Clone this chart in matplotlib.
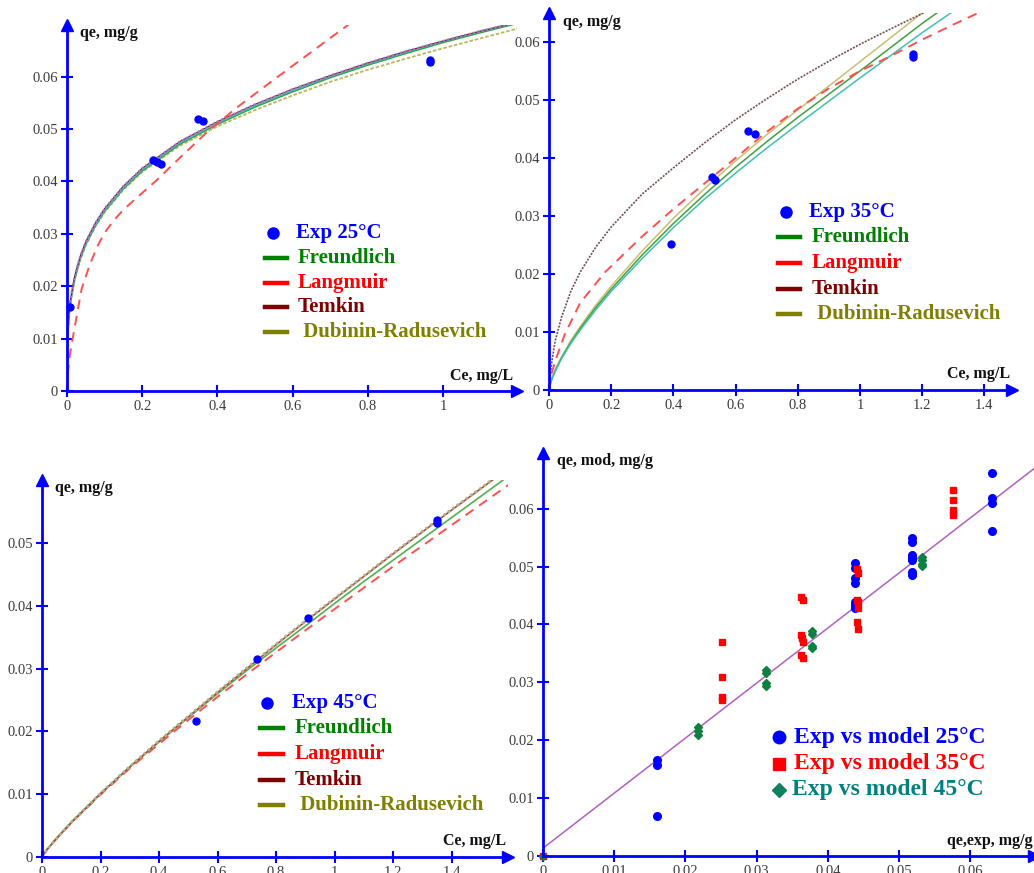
import matplotlib
matplotlib.use("Agg")
import matplotlib.pyplot as plt
from matplotlib.lines import Line2D
from matplotlib.ticker import FuncFormatter

# ---------------- DATA ----------------
# Panel 1 : 25 C
exp25_ce = [0.008, 0.228, 0.24, 0.25, 0.349, 0.363, 0.965, 0.965]
exp25_qe = [0.0160, 0.0441, 0.0437, 0.0434, 0.0520, 0.0516, 0.0628, 0.0632]
grid25 = [0, 0.001, 0.003, 0.006, 0.01, 0.02, 0.035, 0.05, 0.075, 0.1, 0.15, 0.2,
          0.3, 0.4, 0.5, 0.6, 0.7, 0.8, 0.9, 1.0, 1.1, 1.2]
freundlich25 = [0, 0.0088, 0.0122, 0.0149, 0.0173, 0.0213, 0.0252, 0.0280, 0.0315, 0.0343,
                0.0386, 0.0420, 0.0471, 0.0509, 0.0542, 0.0571, 0.0598, 0.0622, 0.0644,
                0.0665, 0.0684, 0.0702]
other25 = [0, 0.0089, 0.0123, 0.0150, 0.0174, 0.0214, 0.0253, 0.0281, 0.0316, 0.0344,
           0.0387, 0.0422, 0.0473, 0.0511, 0.0544, 0.0573, 0.0600, 0.0624, 0.0646,
           0.0667, 0.0686, 0.0704]
temkin25 = [0, 0.0090, 0.0125, 0.0153, 0.0177, 0.0218, 0.0257, 0.0285, 0.0320, 0.0348,
            0.0391, 0.0425, 0.0476, 0.0514, 0.0547, 0.0576, 0.0602, 0.0626, 0.0648,
            0.0668, 0.0687, 0.0704]
dr25 = [0, 0.0086, 0.0120, 0.0147, 0.0171, 0.0211, 0.0250, 0.0278, 0.0313, 0.0341,
        0.0384, 0.0418, 0.0468, 0.0505, 0.0536, 0.0564, 0.0590, 0.0613, 0.0634,
        0.0654, 0.0673, 0.0692]
lang25_ce = [0, 0.003, 0.008, 0.015, 0.025, 0.039, 0.06, 0.08, 0.1, 0.125, 0.15, 0.2,
             0.238, 0.3, 0.371, 0.45, 0.55, 0.65, 0.75]
lang25_qe = [0, 0.0040, 0.0070, 0.0100, 0.0140, 0.0195, 0.0240, 0.0275, 0.0302, 0.0326,
             0.0346, 0.0378, 0.0402, 0.0445, 0.0493, 0.0540, 0.0594, 0.0647, 0.0700]

# Panel 2 : 35 C
exp35_ce = [0.392, 0.523, 0.534, 0.641, 0.662, 1.171, 1.171]
exp35_qe = [0.0252, 0.0368, 0.0362, 0.0447, 0.0441, 0.0580, 0.0575]
grid35 = [0, 0.005, 0.01, 0.02, 0.04, 0.07, 0.1, 0.15, 0.2, 0.3, 0.4, 0.5, 0.6, 0.7,
          0.8, 0.9, 1.0, 1.1, 1.2, 1.3]
temkin35 = [0, 0.0030, 0.0052, 0.0085, 0.0125, 0.0170, 0.0203, 0.0246, 0.0281, 0.0338,
            0.0383, 0.0426, 0.0466, 0.0502, 0.0536, 0.0567, 0.0596, 0.0623, 0.0649, 0.0674]
freundlich35 = [0, 0.0012, 0.0020, 0.0033, 0.0055, 0.0082, 0.0106, 0.0142, 0.0174, 0.0233,
                0.0287, 0.0337, 0.0384, 0.0428, 0.0470, 0.0510, 0.0550, 0.0591, 0.0632, 0.0670]
dr35 = [0, 0.0013, 0.0021, 0.0035, 0.0057, 0.0085, 0.0109, 0.0146, 0.0179, 0.0240,
        0.0296, 0.0347, 0.0395, 0.0440, 0.0483, 0.0524, 0.0566, 0.0608, 0.0650, 0.0690]
other35 = [0, 0.0012, 0.0020, 0.0032, 0.0054, 0.0080, 0.0103, 0.0138, 0.0170, 0.0227,
           0.0280, 0.0329, 0.0374, 0.0417, 0.0458, 0.0498, 0.0538, 0.0577, 0.0616, 0.0653]
lang35_ce = [0, 0.005, 0.02, 0.05, 0.1, 0.18, 0.3, 0.4, 0.5, 0.6, 0.7, 0.8, 0.9, 1.0,
             1.1, 1.2, 1.3, 1.4]
lang35_qe = [0, 0.0022, 0.0050, 0.0095, 0.0150, 0.0203, 0.0265, 0.0312, 0.0356, 0.0400,
             0.0445, 0.0485, 0.0520, 0.0550, 0.0576, 0.0604, 0.0630, 0.0655]

# Panel 3 : 45 C
exp45_ce = [0.526, 0.734, 0.910, 1.349, 1.349]
exp45_qe = [0.0217, 0.0315, 0.0381, 0.0537, 0.0533]
grid45 = [0, 0.01, 0.02, 0.05, 0.1, 0.2, 0.3, 0.4, 0.5, 0.6, 0.7, 0.8, 0.9, 1.0,
          1.1, 1.2, 1.3, 1.4, 1.5, 1.6]
temkin45 = [0, 0.0007, 0.0013, 0.0029, 0.0054, 0.0100, 0.0143, 0.0184, 0.0223, 0.0262,
            0.0300, 0.0338, 0.0375, 0.0411, 0.0447, 0.0483, 0.0518, 0.0553, 0.0587, 0.0622]
dr45 = [0, 0.0007, 0.0013, 0.0029, 0.0055, 0.0101, 0.0144, 0.0185, 0.0224, 0.0263,
        0.0301, 0.0339, 0.0376, 0.0412, 0.0448, 0.0484, 0.0519, 0.0554, 0.0588, 0.0623]
freundlich45 = [0, 0.0007, 0.0013, 0.0030, 0.0055, 0.0101, 0.0143, 0.0183, 0.0222, 0.0260,
                0.0297, 0.0333, 0.0368, 0.0404, 0.0439, 0.0473, 0.0507, 0.0541, 0.0575, 0.0609]
lang45 = [0, 0.0007, 0.0013, 0.0029, 0.0054, 0.0099, 0.0141, 0.0180, 0.0218, 0.0255,
          0.0291, 0.0326, 0.0361, 0.0395, 0.0429, 0.0463, 0.0496, 0.0529, 0.0562, 0.0595]

# Panel 4 : experimental vs model
pv25_exp = [0.0160, 0.0160, 0.0160,
            0.0438, 0.0438, 0.0438, 0.0438, 0.0438, 0.0438, 0.0438,
            0.0518, 0.0518, 0.0518, 0.0518, 0.0518, 0.0518, 0.0518,
            0.0630, 0.0630, 0.0630, 0.0630]
pv25_mod = [0.0166, 0.0157, 0.0069,
            0.0506, 0.0497, 0.0480, 0.0472, 0.0439, 0.0434, 0.0428,
            0.0549, 0.0543, 0.0520, 0.0515, 0.0512, 0.0490, 0.0486,
            0.0662, 0.0618, 0.0610, 0.0562]
pv35_exp = [0.0, 0.0251, 0.0251, 0.0251, 0.0251,
            0.0363, 0.0365, 0.0363, 0.0364, 0.0365, 0.0363, 0.0365,
            0.0441, 0.0443, 0.0441, 0.0442, 0.0443, 0.0441, 0.0443,
            0.0576, 0.0576, 0.0576, 0.0576]
pv35_mod = [0.0, 0.0370, 0.0309, 0.0275, 0.0269,
            0.0447, 0.0442, 0.0382, 0.0376, 0.0370, 0.0347, 0.0342,
            0.0496, 0.0489, 0.0442, 0.0439, 0.0428, 0.0405, 0.0393,
            0.0632, 0.0615, 0.0598, 0.0589]
pv45_exp = [0.0, 0.0217, 0.0217, 0.0217, 0.0313, 0.0313, 0.0313, 0.0313,
            0.0378, 0.0378, 0.0378, 0.0378, 0.0532, 0.0532, 0.0532, 0.0532]
pv45_mod = [0.0, 0.0223, 0.0215, 0.0209, 0.0321, 0.0316, 0.0298, 0.0294,
            0.0389, 0.0384, 0.0363, 0.0359, 0.0516, 0.0512, 0.0505, 0.0501]
fit_x = [0.0, 0.069]
fit_y = [0.0013, 0.0670]

x_ticks_1 = [0, 0.2, 0.4, 0.6, 0.8, 1.0]
x_ticks_23 = [0, 0.2, 0.4, 0.6, 0.8, 1.0, 1.2, 1.4]
y_ticks_12 = [0, 0.01, 0.02, 0.03, 0.04, 0.05, 0.06]
y_ticks_3 = [0, 0.01, 0.02, 0.03, 0.04, 0.05]
x_ticks_4 = [0, 0.01, 0.02, 0.03, 0.04, 0.05, 0.06]
y_ticks_4 = [0, 0.01, 0.02, 0.03, 0.04, 0.05, 0.06]

legend_models = ["Freundlich", "Langmuir", "Temkin", " Dubinin-Radusevich"]
legend_model_colors = ["#008000", "#FF0000", "#800000", "#808000"]

# ---------------- FIGURE ----------------
W, H = 1034, 873
fig = plt.figure(figsize=(W / 100, H / 100), dpi=100)
fig.patch.set_facecolor("white")
SERIF = ["Liberation Serif", "DejaVu Serif"]
BLUE = "#0000FF"


def fx(x):
    return x / W


def fy(y):
    return 1 - y / H


def make_axes(left, top, right, bottom, xmax, ymax, xticks, yticks):
    ax = fig.add_axes([fx(left), fy(bottom), (right - left) / W, (bottom - top) / H])
    ax.set_xlim(0, xmax)
    ax.set_ylim(0, ymax)
    for s in ("top", "right"):
        ax.spines[s].set_visible(False)
    for s in ("left", "bottom"):
        ax.spines[s].set_color(BLUE)
        ax.spines[s].set_linewidth(2.0)
        ax.spines[s].set_zorder(5)
    ax.set_xticks(xticks)
    ax.set_yticks(yticks)
    fmt = FuncFormatter(lambda v, p: "%g" % round(v, 4))
    ax.xaxis.set_major_formatter(fmt)
    ax.yaxis.set_major_formatter(fmt)
    ax.tick_params(direction="inout", length=9, width=1.5, color=BLUE,
                   labelsize=10.5, labelcolor="#3a3a3a", pad=2)
    for lab in ax.get_xticklabels() + ax.get_yticklabels():
        lab.set_family(SERIF)
    # arrow heads
    ax.plot([0], [1.0], marker="^", markersize=8, color=BLUE, transform=ax.transAxes,
            clip_on=False, zorder=6)
    ax.plot([1.0], [0], marker=">", markersize=8, color=BLUE, transform=ax.transAxes,
            clip_on=False, zorder=6)
    ax.set_facecolor("none")
    return ax


def label(x, y, s, ha="left"):
    fig.text(fx(x), fy(y), s, ha=ha, va="center", fontsize=11.5, fontweight="bold",
             family=SERIF, color="#111111")


def model_legend(title, xh0, xh1, xm, xt, xt2, rows, fs=15):
    # first row: experimental marker
    fig.add_artist(Line2D([fx(xm)], [fy(rows[0])], marker="o", markersize=8,
                          color=BLUE, transform=fig.transFigure))
    fig.text(fx(xt), fy(rows[0]), title, ha="left", va="center", fontsize=fs,
             fontweight="bold", family=SERIF, color=BLUE)
    for name, col, y in zip(legend_models, legend_model_colors, rows[1:]):
        fig.add_artist(Line2D([fx(xh0), fx(xh1)], [fy(y), fy(y)], lw=3.2, color=col,
                              transform=fig.transFigure))
        fig.text(fx(xt2), fy(y), name, ha="left", va="center", fontsize=fs,
                 fontweight="bold", family=SERIF, color=col)


# ---- Panel 1 ----
ax1 = make_axes(67, 25, 517, 391, 1.197, 0.06985, x_ticks_1, y_ticks_12)
ax1.plot(grid25, dr25, color="#b8b860", lw=1.3, ls=(0, (2, 1)))
ax1.plot(grid25, freundlich25, color="#30a030", lw=1.2)
ax1.plot(grid25, other25, color="#40b8b8", lw=1.0)
ax1.plot(grid25, temkin25, color="#602040", lw=0.8)
ax1.plot(grid25, temkin25, color="#b070c0", lw=1.6, ls=(0, (1, 1)))
ax1.plot(lang25_ce, lang25_qe, color="#ff5050", lw=1.4, ls=(0, (5, 3.5)))
ax1.plot(exp25_ce, exp25_qe, "o", color=BLUE, markersize=5, clip_on=False, zorder=7)
label(80, 33, "qe, mg/g")
label(513, 376, "Ce, mg/L", ha="right")
model_legend("Exp 25°C", 265, 287, 273, 296, 298, [233, 258, 283, 307, 332])

# ---- Panel 2 ----
ax2 = make_axes(549, 13, 1012, 390, 1.489, 0.0650, x_ticks_23, y_ticks_12)
ax2.plot(grid35, dr35, color="#c8c070", lw=1.1)
ax2.plot(grid35, freundlich35, color="#40a040", lw=1.1)
ax2.plot(grid35, other35, color="#40c0b0", lw=1.1)
ax2.plot(grid35, temkin35, color="#705050", lw=1.2, ls=(0, (1.2, 0.8)))
ax2.plot(lang35_ce, lang35_qe, color="#ff5050", lw=1.4, ls=(0, (5, 3.5)))
ax2.plot(exp35_ce, exp35_qe, "o", color=BLUE, markersize=5, zorder=7)
label(563, 22, "qe, mg/g")
label(1010, 374, "Ce, mg/L", ha="right")
model_legend("Exp 35°C", 778, 800, 786, 809, 812, [212, 237, 263, 289, 314])

# ---- Panel 3 ----
ax3 = make_axes(42, 480, 508, 856.7, 1.593, 0.0601, x_ticks_23, y_ticks_3)
ax3.plot(grid45, lang45, color="#ff5050", lw=1.4, ls=(0, (5, 3.5)))
ax3.plot(grid45, freundlich45, color="#50b050", lw=1.2)
ax3.plot(grid45, temkin45, color="#a05050", lw=1.2)
ax3.plot(grid45, dr45, color="#b8b080", lw=2.0, ls=(0, (1, 1)))
ax3.plot(exp45_ce, exp45_qe, "o", color=BLUE, markersize=5, zorder=7)
label(55, 488, "qe, mg/g")
label(506, 841, "Ce, mg/L", ha="right")
model_legend("Exp 45°C", 260, 283, 267, 292, 295, [703, 728, 754, 780, 805])

# ---- Panel 4 ----
ax4 = make_axes(543, 453, 1034, 855.7, 0.06896, 0.06967, x_ticks_4, y_ticks_4)
ax4.plot(fit_x, fit_y, color="#b060c0", lw=1.1, zorder=2)
ax4.plot(pv25_exp, pv25_mod, "o", color=BLUE, markersize=5.5, zorder=4, clip_on=False)
ax4.plot(pv35_exp, pv35_mod, "s", color="#FF0000", markersize=5, zorder=4, clip_on=False)
ax4.plot(pv45_exp, pv45_mod, "D", color="#108040", markersize=4.5, zorder=4, clip_on=False)
label(557, 461, "qe, mod, mg/g")
label(1033, 841, "qe,exp, mg/g", ha="right")

fs4 = 17
for (mk, col, tcol, y, txt, ms, xt) in [
        ("o", BLUE, BLUE, 737, "Exp vs model 25°C", 9, 794),
        ("s", "#FF0000", "#FF0000", 764, "Exp vs model 35°C", 9, 794),
        ("D", "#108060", "#008080", 790, "Exp vs model 45°C", 7, 792)]:
    fig.add_artist(Line2D([fx(779)], [fy(y)], marker=mk, markersize=ms, color=col,
                          transform=fig.transFigure))
    fig.text(fx(xt), fy(y), txt, ha="left", va="center", fontsize=fs4,
             fontweight="bold", family=SERIF, color=tcol)

fig.savefig("out.png", dpi=100, facecolor="white")
